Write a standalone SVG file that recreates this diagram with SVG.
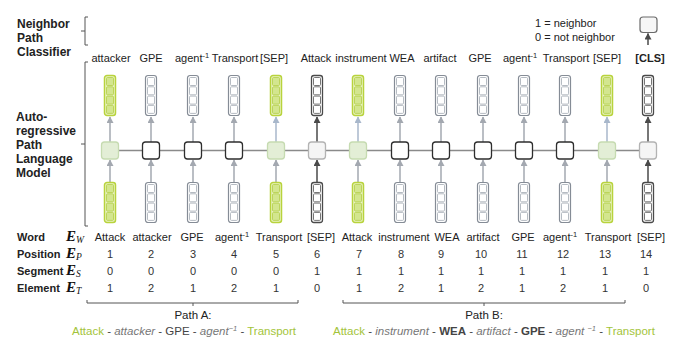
<svg xmlns="http://www.w3.org/2000/svg" xmlns:xlink="http://www.w3.org/1999/xlink" width="692" height="353" viewBox="0 0 692 353">
<style>
text{font-family:"Liberation Sans",Arial,sans-serif;fill:#222}
.hd{font-size:12px;font-weight:bold}
.rl{font-size:11px;font-weight:bold}
.tl{font-size:11px;text-anchor:middle}
.tls{font-size:11px}
.wr{font-size:11px;text-anchor:middle}
.wrs{font-size:11px}
.num{font-size:11px;text-anchor:middle;fill:#333}
.em{font-family:"Liberation Serif","Times New Roman",serif;font-weight:bold;font-style:italic;font-size:15px;fill:#111}
.sub{font-family:"Liberation Serif","Times New Roman",serif;font-style:italic;font-size:9.5px;font-weight:normal}
.sup{font-size:7.5px}
.pd{font-size:11.5px;fill:#444}
.g{fill:#a3c43a}
.it{font-style:italic;fill:#777}
.b{font-weight:bold}
.sq-g{fill:#e3eed6;stroke:#c6dbb1;stroke-width:1.3}
.sq-w{fill:#fff;stroke:#2e2e2e;stroke-width:1.3}
.sq-l{fill:#f5f5f5;stroke:#b3b3b3;stroke-width:1.3}
.br{fill:none;stroke:#555;stroke-width:1}
.ar-gray{stroke:#a3a8b0;stroke-width:1.5;marker-end:url(#mg)}
.ar-blue{stroke:#a8b7cb;stroke-width:1.5;marker-end:url(#mb)}
.ar-dark{stroke:#4a4a4a;stroke-width:1.5;marker-end:url(#md)}
</style>
<defs>
<marker id="mg" markerUnits="userSpaceOnUse" markerWidth="7" markerHeight="7" refX="6" refY="3.5" orient="auto"><path d="M0,0 L6.5,3.5 L0,7 z" fill="#a3a8b0"/></marker>
<marker id="mb" markerUnits="userSpaceOnUse" markerWidth="7" markerHeight="7" refX="6" refY="3.5" orient="auto"><path d="M0,0 L6.5,3.5 L0,7 z" fill="#a8b7cb"/></marker>
<marker id="md" markerUnits="userSpaceOnUse" markerWidth="7" markerHeight="7" refX="6" refY="3.5" orient="auto"><path d="M0,0 L6.5,3.5 L0,7 z" fill="#4a4a4a"/></marker>
<g id="vg">
<rect x="0.5" y="0.5" width="11" height="40" rx="2.5" fill="#eaf3c6" stroke="#b8d33c" stroke-width="1.5"/>
<g fill="#d3e68e" stroke="#b3ce45" stroke-width="0.8"><rect x="2.5" y="2.5" width="7" height="8" rx="1"/><rect x="2.5" y="11.8" width="7" height="8" rx="1"/><rect x="2.5" y="21.1" width="7" height="8" rx="1"/><rect x="2.5" y="30.4" width="7" height="8" rx="1"/></g>
</g>
<g id="vw">
<rect x="0.5" y="0.5" width="11" height="40" rx="2.5" fill="#fff" stroke="#858c96" stroke-width="1.2"/>
<g fill="#fff" stroke="#a2a9b2" stroke-width="0.8"><rect x="2.5" y="2.5" width="7" height="8" rx="1"/><rect x="2.5" y="11.8" width="7" height="8" rx="1"/><rect x="2.5" y="21.1" width="7" height="8" rx="1"/><rect x="2.5" y="30.4" width="7" height="8" rx="1"/></g>
</g>
<g id="vd">
<rect x="0.5" y="0.5" width="11" height="40" rx="2.5" fill="#fff" stroke="#4a4a4a" stroke-width="1.3"/>
<g fill="#fff" stroke="#666" stroke-width="0.9"><rect x="2.5" y="2.5" width="7" height="8" rx="1"/><rect x="2.5" y="11.8" width="7" height="8" rx="1"/><rect x="2.5" y="21.1" width="7" height="8" rx="1"/><rect x="2.5" y="30.4" width="7" height="8" rx="1"/></g>
</g>
</defs>
<rect width="692" height="353" fill="#fff"/>

<!-- left labels and brackets -->
<g id="labels-left">
<text class="hd" x="17" y="28">Neighbor</text>
<text class="hd" x="17" y="42">Path</text>
<text class="hd" x="17" y="56">Classifier</text>
<text class="hd" x="16" y="121">Auto-</text>
<text class="hd" x="16" y="135">regressive</text>
<text class="hd" x="16" y="149">Path</text>
<text class="hd" x="16" y="163">Language</text>
<text class="hd" x="16" y="177">Model</text>
<path class="br" d="M88,17 H85 V45 H88 M85,31 H81"/>
<path class="br" d="M88,62 H85 V226 H88 M85,144 H81"/>
</g>

<!-- legend and classifier output -->
<g id="legend">
<text style="font-size:11px" x="535" y="27">1 = neighbor</text>
<text style="font-size:11px" x="535" y="41">0 = not neighbor</text>
</g>
<g id="cls-output">
<rect x="640" y="17" width="17" height="15.5" rx="3" fill="#f6f6f6" stroke="#6a6a6a" stroke-width="1.2"/>
</g>

<!-- connectors -->
<g id="connectors">
<path d="M118,150.5 H640" stroke="#8a8a8a" stroke-width="1.3" fill="none"/>
<line class="ar-dark" x1="648" y1="45" x2="648" y2="33.5"/>
<line class="ar-gray" x1="110" y1="182" x2="110" y2="160"/>
<line class="ar-gray" x1="151" y1="182" x2="151" y2="160"/>
<line class="ar-gray" x1="193" y1="182" x2="193" y2="160"/>
<line class="ar-gray" x1="234" y1="182" x2="234" y2="160"/>
<line class="ar-gray" x1="276" y1="182" x2="276" y2="160"/>
<line class="ar-dark" x1="317" y1="182" x2="317" y2="160"/>
<line class="ar-gray" x1="358" y1="182" x2="358" y2="160"/>
<line class="ar-gray" x1="400" y1="182" x2="400" y2="160"/>
<line class="ar-gray" x1="441" y1="182" x2="441" y2="160"/>
<line class="ar-gray" x1="483" y1="182" x2="483" y2="160"/>
<line class="ar-gray" x1="524" y1="182" x2="524" y2="160"/>
<line class="ar-gray" x1="565" y1="182" x2="565" y2="160"/>
<line class="ar-gray" x1="607" y1="182" x2="607" y2="160"/>
<line class="ar-dark" x1="648" y1="182" x2="648" y2="160"/>
<line class="ar-gray" x1="110" y1="142" x2="110" y2="117"/>
<line class="ar-gray" x1="151" y1="142" x2="151" y2="117"/>
<line class="ar-gray" x1="193" y1="142" x2="193" y2="117"/>
<line class="ar-gray" x1="234" y1="142" x2="234" y2="117"/>
<line class="ar-blue" x1="276" y1="142" x2="276" y2="117"/>
<line class="ar-dark" x1="317" y1="142" x2="317" y2="117"/>
<line class="ar-blue" x1="358" y1="142" x2="358" y2="117"/>
<line class="ar-gray" x1="400" y1="142" x2="400" y2="117"/>
<line class="ar-gray" x1="441" y1="142" x2="441" y2="117"/>
<line class="ar-gray" x1="483" y1="142" x2="483" y2="117"/>
<line class="ar-gray" x1="524" y1="142" x2="524" y2="117"/>
<line class="ar-gray" x1="565" y1="142" x2="565" y2="117"/>
<line class="ar-blue" x1="607" y1="142" x2="607" y2="117"/>
<line class="ar-dark" x1="648" y1="142" x2="648" y2="117"/>
</g>

<!-- columns -->
<g id="col1"><use href="#vg" x="104" y="75"/><rect class="sq-g" x="101.5" y="142" width="17" height="17" rx="3"/><use href="#vg" x="104" y="182"/></g>
<g id="col2"><use href="#vw" x="145" y="75"/><rect class="sq-w" x="142.5" y="142" width="17" height="17" rx="3"/><use href="#vw" x="145" y="182"/></g>
<g id="col3"><use href="#vw" x="187" y="75"/><rect class="sq-w" x="184.5" y="142" width="17" height="17" rx="3"/><use href="#vw" x="187" y="182"/></g>
<g id="col4"><use href="#vw" x="228" y="75"/><rect class="sq-w" x="225.5" y="142" width="17" height="17" rx="3"/><use href="#vw" x="228" y="182"/></g>
<g id="col5"><use href="#vg" x="270" y="75"/><rect class="sq-g" x="267.5" y="142" width="17" height="17" rx="3"/><use href="#vg" x="270" y="182"/></g>
<g id="col6"><use href="#vd" x="311" y="75"/><rect class="sq-l" x="308.5" y="142" width="17" height="17" rx="3"/><use href="#vd" x="311" y="182"/></g>
<g id="col7"><use href="#vg" x="352" y="75"/><rect class="sq-g" x="349.5" y="142" width="17" height="17" rx="3"/><use href="#vg" x="352" y="182"/></g>
<g id="col8"><use href="#vw" x="394" y="75"/><rect class="sq-w" x="391.5" y="142" width="17" height="17" rx="3"/><use href="#vw" x="394" y="182"/></g>
<g id="col9"><use href="#vw" x="435" y="75"/><rect class="sq-w" x="432.5" y="142" width="17" height="17" rx="3"/><use href="#vw" x="435" y="182"/></g>
<g id="col10"><use href="#vw" x="477" y="75"/><rect class="sq-w" x="474.5" y="142" width="17" height="17" rx="3"/><use href="#vw" x="477" y="182"/></g>
<g id="col11"><use href="#vw" x="518" y="75"/><rect class="sq-w" x="515.5" y="142" width="17" height="17" rx="3"/><use href="#vw" x="518" y="182"/></g>
<g id="col12"><use href="#vw" x="559" y="75"/><rect class="sq-w" x="556.5" y="142" width="17" height="17" rx="3"/><use href="#vw" x="559" y="182"/></g>
<g id="col13"><use href="#vg" x="601" y="75"/><rect class="sq-g" x="598.5" y="142" width="17" height="17" rx="3"/><use href="#vg" x="601" y="182"/></g>
<g id="col14"><use href="#vd" x="642" y="75"/><rect class="sq-l" x="639.5" y="142" width="17" height="17" rx="3"/><use href="#vd" x="642" y="182"/></g>

<!-- top labels -->
<g id="top-labels">
<text class="tl" x="111" y="62">attacker</text>
<text class="tl" x="151" y="62">GPE</text>
<text class="tls" x="175" y="62">agent<tspan class="sup" dy="-4">-1</tspan></text>
<text class="tl" x="235" y="62">Transport</text>
<text class="tl" x="274" y="62">[SEP]</text>
<text class="tl" x="316" y="62">Attack</text>
<text class="tl" x="361" y="62">instrument</text>
<text class="tl" x="402" y="62">WEA</text>
<text class="tl" x="440" y="62">artifact</text>
<text class="tl" x="480" y="62">GPE</text>
<text class="tls" x="503" y="62">agent<tspan class="sup" dy="-4">-1</tspan></text>
<text class="tl" x="566" y="62">Transport</text>
<text class="tl" x="607" y="62">[SEP]</text>
<text class="tl" x="650" y="62" font-weight="bold">[CLS]</text>
</g>

<!-- embedding rows -->
<g id="rows">
<text class="rl" x="17" y="241">Word</text>
<text class="em" x="66" y="241">E<tspan class="sub" dy="2">W</tspan></text>
<text class="rl" x="17" y="258">Position</text>
<text class="em" x="66" y="258">E<tspan class="sub" dy="2">P</tspan></text>
<text class="rl" x="17" y="275">Segment</text>
<text class="em" x="66" y="275">E<tspan class="sub" dy="2">S</tspan></text>
<text class="rl" x="17" y="292">Element</text>
<text class="em" x="66" y="292">E<tspan class="sub" dy="2">T</tspan></text>

<text class="wr" x="110" y="241">Attack</text>
<text class="wr" x="152" y="241">attacker</text>
<text class="wr" x="192" y="241">GPE</text>
<text class="wrs" x="215" y="241">agent<tspan class="sup" dy="-4.5">-1</tspan></text>
<text class="wr" x="279" y="241">Transport</text>
<text class="wr" x="321" y="241">[SEP]</text>
<text class="wr" x="357" y="241">Attack</text>
<text class="wr" x="404" y="241">instrument</text>
<text class="wr" x="447" y="241">WEA</text>
<text class="wr" x="483" y="241">artifact</text>
<text class="wr" x="523" y="241">GPE</text>
<text class="wrs" x="543" y="241">agent<tspan class="sup" dy="-4.5">-1</tspan></text>
<text class="wr" x="608" y="241">Transport</text>
<text class="wr" x="651" y="241">[SEP]</text>

<text class="num" x="110" y="258">1</text><text class="num" x="151" y="258">2</text><text class="num" x="193" y="258">3</text><text class="num" x="234" y="258">4</text><text class="num" x="276" y="258">5</text><text class="num" x="317" y="258">6</text><text class="num" x="359" y="258">7</text><text class="num" x="401" y="258">8</text><text class="num" x="441" y="258">9</text><text class="num" x="481" y="258">10</text><text class="num" x="522" y="258">11</text><text class="num" x="563" y="258">12</text><text class="num" x="605" y="258">13</text><text class="num" x="646" y="258">14</text>

<text class="num" x="110" y="275">0</text><text class="num" x="151" y="275">0</text><text class="num" x="193" y="275">0</text><text class="num" x="234" y="275">0</text><text class="num" x="276" y="275">0</text><text class="num" x="317" y="275">1</text><text class="num" x="359" y="275">1</text><text class="num" x="401" y="275">1</text><text class="num" x="441" y="275">1</text><text class="num" x="481" y="275">1</text><text class="num" x="522" y="275">1</text><text class="num" x="563" y="275">1</text><text class="num" x="605" y="275">1</text><text class="num" x="646" y="275">1</text>

<text class="num" x="110" y="292">1</text><text class="num" x="151" y="292">2</text><text class="num" x="193" y="292">1</text><text class="num" x="234" y="292">2</text><text class="num" x="276" y="292">1</text><text class="num" x="317" y="292">0</text><text class="num" x="359" y="292">1</text><text class="num" x="401" y="292">2</text><text class="num" x="441" y="292">1</text><text class="num" x="481" y="292">2</text><text class="num" x="522" y="292">1</text><text class="num" x="563" y="292">2</text><text class="num" x="605" y="292">1</text><text class="num" x="646" y="292">0</text>
</g>

<!-- path brackets -->
<g id="pathA">
<path class="br" d="M87,300 V303 H298 V300 M193,303 V306"/>
<text style="font-size:11.5px;text-anchor:middle" x="193" y="319">Path A:</text>
<text class="pd" x="72" y="335"><tspan class="g">Attack</tspan> - <tspan class="it">attacker</tspan> - GPE - <tspan class="it">agent</tspan><tspan class="it sup" dy="-4.5">−1</tspan><tspan dy="4.5"> - </tspan><tspan class="g">Transport</tspan></text>
</g>
<g id="pathB">
<path class="br" d="M343,300 V303 H625 V300 M484,303 V306"/>
<text style="font-size:11.5px;text-anchor:middle" x="484" y="319">Path B:</text>
<text class="pd" x="333" y="335"><tspan class="g">Attack</tspan> - <tspan class="it">instrument</tspan> - <tspan class="b">WEA</tspan> - <tspan class="it">artifact</tspan> - <tspan class="b">GPE</tspan> - <tspan class="it">agent </tspan><tspan class="it sup" dy="-4.5">−1</tspan><tspan dy="4.5"> - </tspan><tspan class="g">Transport</tspan></text>
</g>
</svg>
